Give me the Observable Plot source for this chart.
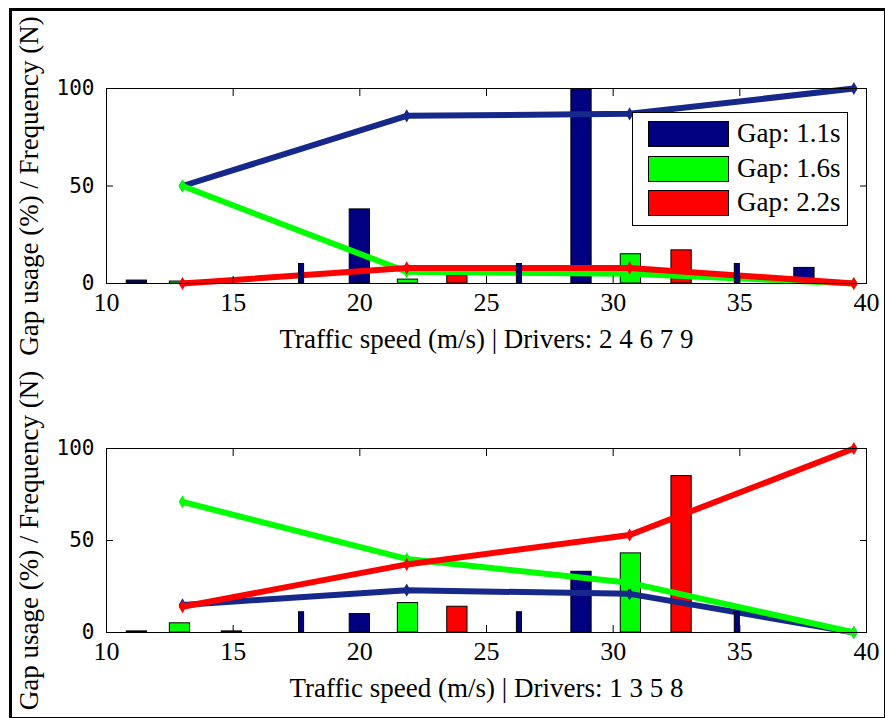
<!DOCTYPE html>
<html><head><meta charset="utf-8">
<script src="https://cdn.jsdelivr.net/npm/d3@7"></script>
<script src="https://cdn.jsdelivr.net/npm/@observablehq/plot@0.6"></script>
<style>
html,body{margin:0;padding:0;background:#fff;}
#fig{position:relative;width:885px;height:718px;overflow:hidden;background:#fff;}
#border{position:absolute;left:9px;top:8px;width:872px;height:706px;border:3px solid #000;pointer-events:none;}
.panel{position:absolute;left:0;}
.panel svg{display:block;overflow:visible;}
.legend{position:absolute;left:632px;top:112px;width:216px;height:114px;border:1px solid #000;background:#fff;box-sizing:border-box;}
.legend .row{position:absolute;left:15px;height:26px;}
.legend .sw{position:absolute;left:0;top:0;width:81px;height:26px;border:1px solid #000;box-sizing:border-box;}
.legend .lab{position:absolute;left:89px;top:-3px;font-family:"Liberation Serif",serif;font-size:27px;line-height:31px;white-space:nowrap;color:#000;}
</style></head><body><div id="fig"></div>
<script>
// ---- data ----
const xTicks = [10, 15, 20, 25, 30, 35, 40];
const yTicks = [0, 50, 100];
const seriesNames = ["Gap: 1.1s", "Gap: 1.6s", "Gap: 2.2s"];
const seriesColors = ["#000080", "#00ff00", "#ff0000"];
const lineColors = ["#16288a", "#00ff00", "#ff0000"];
const yLabel = "Gap usage (%) / Frequency (N)";
const xLabelTop = "Traffic speed (m/s) | Drivers: 2 4 6 7 9";
const xLabelBottom = "Traffic speed (m/s) | Drivers: 1 3 5 8";

// usage-curve speeds and values
const lineSpeeds = [13.0, 21.85, 30.65, 39.5];
const topBlueLine = [50, 86, 87, 100];
const topGreenLine = [50, 6, 5, 0];
const topRedLine = [0, 8, 8, 0];
const botBlueLine = [15, 23, 21, 0];
const botGreenLine = [71, 40, 27, 0];
const botRedLine = [14, 37, 53, 100];

// frequency bars (bin centers and counts)
const blueBarSpeeds = [11.2, 20.0, 28.75, 37.55];
const greenBarSpeeds = [12.9, 21.9, 30.7];
const redBarSpeeds = [14.95, 23.85, 32.7];
const countBarSpeeds = [17.7, 26.3, 34.9];
const topBlueBars = [1.5, 38, 100, 8];
const topGreenBars = [1, 2, 15];
const topRedBars = [0, 4, 17];
const topCountBars = [10, 10, 10];
const botBlueBars = [0.6, 10, 33, 0];
const botGreenBars = [5, 16, 43];
const botRedBars = [0.6, 14, 85];
const botCountBars = [11, 11, 11];

// ---- drawing ----
const serif = "Liberation Serif, Times New Roman, serif";
const mono = "DejaVu Sans Mono, monospace";

function rows(speeds, vals) { return speeds.map((s, i) => ({s, v: vals[i]})); }

function bars(speeds, vals, color, w) {
  return Plot.rect(rows(speeds, vals), {
    x1: d => d.s - w / 2, x2: d => d.s + w / 2, y1: 0, y2: "v",
    fill: color, stroke: "#000", strokeWidth: 1, clip: true
  });
}
function curve(vals, color) {
  const data = rows(lineSpeeds, vals);
  return [
    Plot.line(data, {x: "s", y: "v", stroke: color, strokeWidth: 6}),
    Plot.dot(data, {x: "s", y: "v", r: 4, fill: color, symbol: "diamond"})
  ];
}

function panel(cfg) {
  return Plot.plot({
    width: 885, height: 359,
    marginLeft: 106, marginRight: 19, marginTop: cfg.mt, marginBottom: cfg.mb,
    x: {domain: [10, 40]},
    y: {domain: [0, 100]},
    style: {fontFamily: serif, background: "transparent", color: "#000", overflow: "visible"},
    marks: [
      bars(blueBarSpeeds, cfg.blueBars, seriesColors[0], 0.8),
      bars(greenBarSpeeds, cfg.greenBars, seriesColors[1], 0.8),
      bars(redBarSpeeds, cfg.redBars, seriesColors[2], 0.8),
      ...curve(cfg.blue, lineColors[0]),
      ...curve(cfg.green, lineColors[1]),
      ...curve(cfg.red, lineColors[2]),
      bars(countBarSpeeds, cfg.countBars, seriesColors[0], 0.2),
      Plot.frame({stroke: "#000", strokeWidth: 1}),
      Plot.axisX(xTicks, {anchor: "bottom", tickSize: 0, tickPadding: 9, fontSize: 26, fontFamily: serif, label: null}),
      Plot.axisX(xTicks, {anchor: "bottom", tickSize: -7, tickFormat: () => "", label: null}),
      Plot.axisX(xTicks, {anchor: "top", tickSize: -7, tickFormat: () => "", label: null}),
      Plot.axisY(yTicks, {anchor: "left", tickSize: 0, tickPadding: 12, fontSize: 21, fontFamily: mono, label: null}),
      Plot.axisY(yTicks, {anchor: "left", tickSize: -7, tickFormat: () => "", label: null}),
      Plot.axisY(yTicks, {anchor: "right", tickSize: -7, tickFormat: () => "", label: null}),
      Plot.text([cfg.xLabel], {frameAnchor: "bottom", dy: cfg.xdy, lineAnchor: "middle", textAnchor: "middle", fontSize: 27, fontFamily: serif, fill: "#000"}),
      Plot.text([yLabel], {frameAnchor: "left", dx: -77, rotate: -90, textAnchor: "middle", lineAnchor: "middle", fontSize: 27, fontFamily: serif, fill: "#000"})
    ]
  });
}

const fig = document.getElementById("fig");
const p1 = document.createElement("div"); p1.className = "panel"; p1.style.top = "0px";
p1.appendChild(panel({mt: 88, mb: 76, blue: topBlueLine, green: topGreenLine, red: topRedLine,
  blueBars: topBlueBars, greenBars: topGreenBars, redBars: topRedBars, countBars: topCountBars,
  xLabel: xLabelTop, xdy: 56}));
const p2 = document.createElement("div"); p2.className = "panel"; p2.style.top = "359px";
p2.appendChild(panel({mt: 89, mb: 86, blue: botBlueLine, green: botGreenLine, red: botRedLine,
  blueBars: botBlueBars, greenBars: botGreenBars, redBars: botRedBars, countBars: botCountBars,
  xLabel: xLabelBottom, xdy: 56}));
fig.appendChild(p1); fig.appendChild(p2);

// legend
const leg = document.createElement("div"); leg.className = "legend";
seriesNames.forEach((name, i) => {
  const r = document.createElement("div"); r.className = "row"; r.style.top = (8 + i * 34.5) + "px";
  const sw = document.createElement("div"); sw.className = "sw"; sw.style.background = seriesColors[i];
  const lb = document.createElement("div"); lb.className = "lab"; lb.textContent = name;
  r.appendChild(sw); r.appendChild(lb); leg.appendChild(r);
});
fig.appendChild(leg);
const b = document.createElement("div"); b.id = "border"; fig.appendChild(b);
</script></body></html>
